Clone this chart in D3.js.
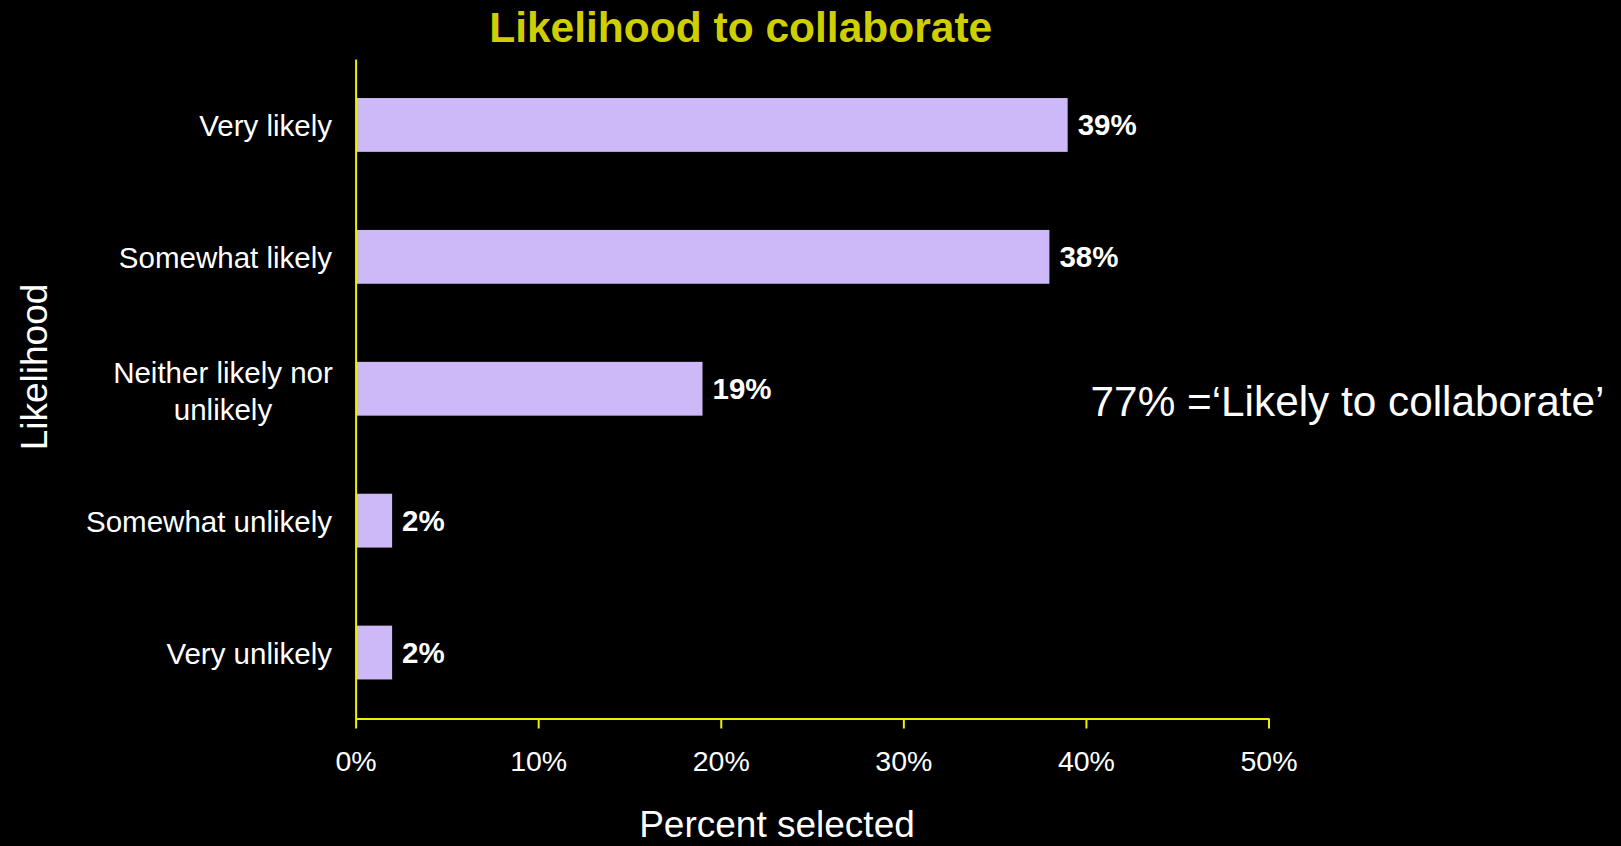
<!DOCTYPE html>
<html>
<head>
<meta charset="utf-8">
<script src="https://cdn.jsdelivr.net/npm/d3@7"></script>
<style>
  html, body { margin: 0; padding: 0; background: #000; }
  svg { display: block; }
  text { font-family: "Liberation Sans", Arial, sans-serif; }
</style>
</head>
<body>
<script>
// ---- data ----
const categories = ["Very likely", "Somewhat likely", "Neither likely nor unlikely", "Somewhat unlikely", "Very unlikely"];
const categoryLines = [["Very likely"], ["Somewhat likely"], ["Neither likely nor", "unlikely"], ["Somewhat unlikely"], ["Very unlikely"]];
const values = [39, 38, 19, 2, 2];
const tickValues = [0, 10, 20, 30, 40, 50];
const titleText = "Likelihood to collaborate";
const xTitle = "Percent selected";
const yTitle = "Likelihood";
const noteText = "77% =\u2018Likely to collaborate\u2019";

(function () {
// ---- layout ----
const W = 1621, H = 846;
const mLeft = 355.6, mRight = 1268.5, mTop = 59, mBottom = 718.5;
const axisColor = "#eeee00";
const titleColor = "#cfcf00";
const barColor = "#cdb9f7";

const svg = d3.select("body").append("svg").attr("width", W).attr("height", H);
svg.append("rect").attr("width", W).attr("height", H).attr("fill", "#000");

const x = d3.scaleLinear().domain([0, 50]).range([mLeft, mRight]);
const y = d3.scaleBand().domain(categories).range([mTop, mBottom]).paddingInner(0.592).paddingOuter(0.296);

// bars
svg.append("g").selectAll("rect").data(values).join("rect")
  .attr("x", x(0))
  .attr("y", (d, i) => y(categories[i]))
  .attr("width", d => x(d) - x(0))
  .attr("height", y.bandwidth())
  .attr("fill", barColor);

// x axis
const xAxis = svg.append("g").attr("transform", `translate(0,${mBottom})`)
  .call(d3.axisBottom(x).tickValues(tickValues).tickFormat(d => d + "%").tickSize(10).tickSizeOuter(0));
xAxis.select(".domain").attr("stroke", axisColor).attr("stroke-width", 2);
xAxis.selectAll(".tick line").attr("stroke", axisColor).attr("stroke-width", 2);
xAxis.selectAll(".tick text")
  .attr("fill", "#fff").attr("font-size", 28.5).attr("dy", null).attr("y", 52)
  .attr("font-family", "'Liberation Sans', Arial, sans-serif");

// y axis line
const yAxis = svg.append("g").attr("transform", `translate(${mLeft},0)`)
  .call(d3.axisLeft(y).tickSize(0).tickSizeOuter(0).tickFormat(""));
yAxis.select(".domain").attr("stroke", axisColor).attr("stroke-width", 2);

// category labels
const catG = svg.append("g");
categories.forEach((c, i) => {
  const lines = categoryLines[i];
  const cy = y(c) + y.bandwidth() / 2;
  const lh = 37;
  const t = catG.append("text")
    .attr("fill", "#fff").attr("font-size", 29.5)
    .attr("text-anchor", lines.length > 1 ? "middle" : "end");
  const ax = lines.length > 1 ? 223 : 332;
  const off = lines.length > 1 ? 13 : 11;
  lines.forEach((ln, j) => {
    t.append("tspan")
      .attr("x", ax)
      .attr("y", cy + off + (j - (lines.length - 1) / 2) * lh)
      .text(ln);
  });
});

// value labels
svg.append("g").selectAll("text").data(values).join("text")
  .attr("x", d => x(d) + 10)
  .attr("y", (d, i) => y(categories[i]) + y.bandwidth() / 2 + 10.5)
  .attr("fill", "#fff").attr("font-weight", "bold").attr("font-size", 29.5)
  .text(d => d + "%");

// title
svg.append("text").attr("x", 740.7).attr("y", 41.5).attr("text-anchor", "middle")
  .attr("fill", titleColor).attr("font-weight", "bold").attr("font-size", 42.5)
  .text(titleText);

// x title
svg.append("text").attr("x", 777).attr("y", 837).attr("text-anchor", "middle")
  .attr("fill", "#fff").attr("font-size", 37).text(xTitle);

// y title
svg.append("text").attr("transform", `translate(46.5,367) rotate(-90)`).attr("text-anchor", "middle")
  .attr("fill", "#fff").attr("font-size", 37).text(yTitle);

// note
svg.append("text").attr("x", 1090.6).attr("y", 415.6)
  .attr("fill", "#fff").attr("font-size", 42.3).text(noteText);
})();
</script>
</body>
</html>
